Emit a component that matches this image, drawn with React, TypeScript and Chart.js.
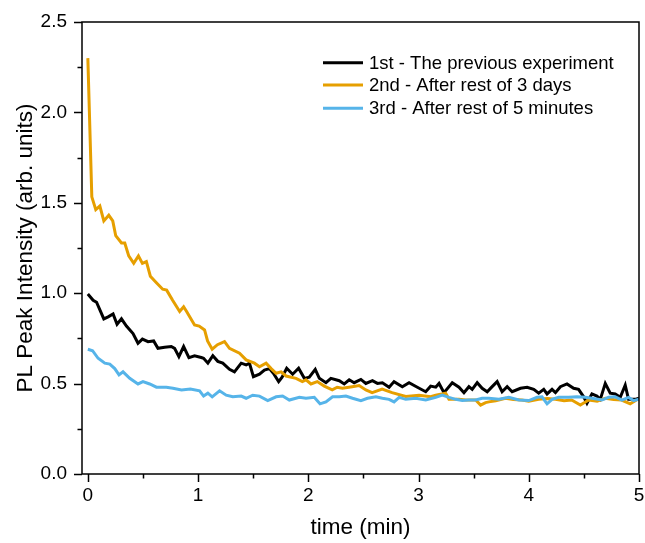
import React, { useEffect, useRef } from 'react';
import { Chart, registerables } from 'chart.js';

Chart.register(...registerables);

const SERIES_LABELS = [
  '1st - The previous experiment',
  '2nd - After rest of 3 days',
  '3rd - After rest of 5 minutes',
];
const SERIES_COLORS = ['#000000', '#E69F00', '#56B4E9'];

const T1 = [0.0, 0.048, 0.079, 0.145, 0.184, 0.229, 0.265, 0.305, 0.35, 0.41, 0.455, 0.495, 0.546, 0.597, 0.636, 0.697, 0.757, 0.787, 0.826, 0.869, 0.917, 0.968, 1.029, 1.05, 1.089, 1.134, 1.179, 1.224, 1.285, 1.33, 1.391, 1.436, 1.466, 1.502, 1.557, 1.602, 1.647, 1.683, 1.731, 1.762, 1.804, 1.858, 1.912, 1.964, 2.009, 2.063, 2.1, 2.16, 2.205, 2.281, 2.326, 2.371, 2.416, 2.477, 2.522, 2.582, 2.627, 2.672, 2.733, 2.778, 2.853, 2.914, 2.989, 3.065, 3.11, 3.156, 3.186, 3.231, 3.306, 3.367, 3.412, 3.457, 3.487, 3.532, 3.577, 3.623, 3.668, 3.713, 3.758, 3.804, 3.849, 3.925, 3.985, 4.045, 4.09, 4.136, 4.166, 4.211, 4.242, 4.287, 4.347, 4.407, 4.452, 4.498, 4.528, 4.573, 4.618, 4.649, 4.694, 4.739, 4.784, 4.83, 4.875, 4.905, 4.966, 5.0];
const V1 = [0.996, 0.961, 0.95, 0.858, 0.869, 0.885, 0.828, 0.858, 0.818, 0.777, 0.723, 0.746, 0.732, 0.736, 0.695, 0.701, 0.705, 0.695, 0.649, 0.705, 0.644, 0.654, 0.644, 0.64, 0.613, 0.654, 0.623, 0.613, 0.579, 0.565, 0.613, 0.603, 0.613, 0.538, 0.552, 0.575, 0.583, 0.557, 0.511, 0.535, 0.585, 0.552, 0.585, 0.529, 0.535, 0.579, 0.529, 0.505, 0.529, 0.516, 0.498, 0.521, 0.505, 0.523, 0.501, 0.516, 0.501, 0.505, 0.48, 0.511, 0.483, 0.505, 0.48, 0.455, 0.486, 0.48, 0.501, 0.45, 0.505, 0.48, 0.45, 0.483, 0.468, 0.505, 0.474, 0.455, 0.483, 0.511, 0.455, 0.483, 0.455, 0.474, 0.48, 0.468, 0.447, 0.468, 0.443, 0.468, 0.45, 0.483, 0.498, 0.474, 0.468, 0.427, 0.391, 0.443, 0.431, 0.413, 0.501, 0.447, 0.443, 0.424, 0.491, 0.413, 0.413, 0.419];

const T2 = [0.0, 0.036, 0.072, 0.109, 0.145, 0.19, 0.226, 0.253, 0.305, 0.335, 0.371, 0.416, 0.459, 0.495, 0.531, 0.567, 0.622, 0.679, 0.715, 0.769, 0.833, 0.869, 0.896, 0.968, 1.01, 1.059, 1.086, 1.128, 1.176, 1.24, 1.285, 1.376, 1.436, 1.511, 1.557, 1.617, 1.663, 1.708, 1.753, 1.798, 1.889, 1.946, 1.979, 2.024, 2.081, 2.145, 2.217, 2.262, 2.31, 2.398, 2.461, 2.522, 2.579, 2.67, 2.76, 2.884, 3.005, 3.11, 3.156, 3.246, 3.276, 3.367, 3.427, 3.518, 3.563, 3.608, 3.638, 3.7, 3.789, 3.86, 3.937, 4.0, 4.09, 4.17, 4.242, 4.32, 4.389, 4.468, 4.543, 4.62, 4.694, 4.77, 4.842, 4.92, 4.977];
const V2 = [2.3, 1.533, 1.462, 1.482, 1.4, 1.431, 1.4, 1.318, 1.278, 1.278, 1.206, 1.165, 1.206, 1.165, 1.175, 1.094, 1.058, 1.022, 1.017, 0.961, 0.899, 0.925, 0.899, 0.824, 0.818, 0.797, 0.736, 0.69, 0.715, 0.732, 0.695, 0.668, 0.631, 0.613, 0.593, 0.613, 0.583, 0.557, 0.565, 0.542, 0.529, 0.511, 0.521, 0.498, 0.511, 0.486, 0.465, 0.48, 0.474, 0.483, 0.489, 0.465, 0.45, 0.47, 0.45, 0.429, 0.436, 0.427, 0.436, 0.447, 0.414, 0.413, 0.409, 0.409, 0.381, 0.395, 0.399, 0.405, 0.419, 0.412, 0.409, 0.402, 0.413, 0.418, 0.413, 0.405, 0.409, 0.381, 0.409, 0.402, 0.419, 0.412, 0.409, 0.388, 0.409];

const T3 = [0.0, 0.043, 0.093, 0.154, 0.199, 0.244, 0.283, 0.319, 0.38, 0.455, 0.5, 0.561, 0.622, 0.712, 0.772, 0.85, 0.93, 1.014, 1.05, 1.089, 1.128, 1.195, 1.255, 1.315, 1.391, 1.436, 1.496, 1.557, 1.632, 1.708, 1.767, 1.828, 1.919, 1.979, 2.054, 2.106, 2.16, 2.22, 2.281, 2.341, 2.401, 2.477, 2.537, 2.613, 2.672, 2.733, 2.778, 2.824, 2.884, 2.975, 3.065, 3.156, 3.215, 3.276, 3.337, 3.397, 3.457, 3.518, 3.577, 3.638, 3.729, 3.819, 3.91, 4.0, 4.075, 4.12, 4.166, 4.211, 4.271, 4.362, 4.437, 4.513, 4.573, 4.663, 4.724, 4.784, 4.845, 4.905, 4.95, 5.0];
const V3 = [0.69, 0.682, 0.64, 0.613, 0.608, 0.583, 0.548, 0.565, 0.529, 0.498, 0.511, 0.498, 0.48, 0.48, 0.474, 0.465, 0.47, 0.46, 0.431, 0.447, 0.427, 0.46, 0.436, 0.427, 0.431, 0.419, 0.436, 0.431, 0.406, 0.427, 0.431, 0.409, 0.424, 0.419, 0.424, 0.388, 0.399, 0.427, 0.427, 0.431, 0.419, 0.406, 0.419, 0.427, 0.419, 0.413, 0.399, 0.424, 0.413, 0.419, 0.409, 0.424, 0.436, 0.424, 0.413, 0.406, 0.409, 0.409, 0.419, 0.419, 0.413, 0.424, 0.409, 0.406, 0.424, 0.427, 0.388, 0.413, 0.424, 0.424, 0.427, 0.424, 0.419, 0.409, 0.424, 0.427, 0.409, 0.424, 0.406, 0.413];

const Y_TICKS = [0, 0.5, 1, 1.5, 2, 2.5];
const Y_MINOR = [0.25, 0.75, 1.25, 1.75, 2.25];
const X_TICKS = [0, 1, 2, 3, 4, 5];
const X_MINOR = [0.5, 1.5, 2.5, 3.5, 4.5];

const FONT = "'Liberation Sans', Arial, Helvetica, sans-serif";

const framePlugin = {
  id: 'frameAndLegend',
  afterDatasetsDraw(chart: any) {
    const { ctx, chartArea: a, scales } = chart;
    ctx.save();
    ctx.strokeStyle = '#000';
    ctx.lineWidth = 1.5;
    ctx.strokeRect(a.left, a.top, a.right - a.left, a.bottom - a.top);
    ctx.beginPath();
    Y_TICKS.forEach((v) => {
      const y = Math.round(scales.y.getPixelForValue(v)) + 0.5;
      ctx.moveTo(a.left - 8, y);
      ctx.lineTo(a.left, y);
    });
    Y_MINOR.forEach((v) => {
      const y = Math.round(scales.y.getPixelForValue(v)) + 0.5;
      ctx.moveTo(a.left - 4.5, y);
      ctx.lineTo(a.left, y);
    });
    X_TICKS.forEach((v) => {
      const x = Math.round(scales.x.getPixelForValue(v)) + 0.5;
      ctx.moveTo(x, a.bottom);
      ctx.lineTo(x, a.bottom + 8);
    });
    X_MINOR.forEach((v) => {
      const x = Math.round(scales.x.getPixelForValue(v)) + 0.5;
      ctx.moveTo(x, a.bottom);
      ctx.lineTo(x, a.bottom + 4.5);
    });
    ctx.stroke();

    // legend
    const rowY = [a.top + 40.7, a.top + 63, a.top + 86.3];
    const x0 = a.left + 241;
    ctx.font = `18.5px ${FONT}`;
    ctx.textBaseline = 'middle';
    ctx.textAlign = 'left';
    SERIES_LABELS.forEach((lab, i) => {
      ctx.strokeStyle = SERIES_COLORS[i];
      ctx.lineWidth = 3;
      ctx.beginPath();
      ctx.moveTo(x0, rowY[i]);
      ctx.lineTo(x0 + 40, rowY[i]);
      ctx.stroke();
      ctx.fillStyle = '#000';
      ctx.fillText(lab, x0 + 46, rowY[i] + 1);
    });
    ctx.restore();
  },
};

export default function App() {
  const ref = useRef<HTMLCanvasElement>(null);
  useEffect(() => {
    if (!ref.current) return;
    const mk = (t: number[], v: number[]) => t.map((x, i) => ({ x, y: v[i] }));
    const series = [mk(T1, V1), mk(T2, V2), mk(T3, V3)];
    const chart = new Chart(ref.current, {
      type: 'line',
      data: {
        datasets: series.map((d, i) => ({
          label: SERIES_LABELS[i],
          data: d,
          borderColor: SERIES_COLORS[i],
          backgroundColor: SERIES_COLORS[i],
          borderWidth: 3,
          pointRadius: 0,
          tension: 0,
          fill: false,
          order: 3 - i,
        })),
      },
      options: {
        responsive: false,
        animation: false,
        devicePixelRatio: 1,
        layout: { padding: { top: 22, right: 6, left: 0, bottom: 0 } },
        plugins: { legend: { display: false }, tooltip: { enabled: false } },
        scales: {
          x: {
            type: 'linear',
            min: -0.053,
            max: 5,
            grid: { display: false, drawTicks: false },
            border: { display: false },
            afterBuildTicks: (s: any) => {
              s.ticks = X_TICKS.map((value) => ({ value }));
            },
            afterFit: (s: any) => {
              s.height = 69;
              s.paddingLeft = 0;
              s.paddingRight = 0;
            },
            ticks: {
              color: '#000',
              font: { family: FONT, size: 19 },
              padding: 10,
              maxRotation: 0,
              callback: (v: any) => String(v),
            },
            title: {
              display: true,
              text: 'time (min)',
              color: '#000',
              font: { family: FONT, size: 22.5 },
              padding: { top: 0, bottom: 2 },
            },
          },
          y: {
            type: 'linear',
            min: 0,
            max: 2.5,
            grid: { display: false, drawTicks: false },
            border: { display: false },
            afterBuildTicks: (s: any) => {
              s.ticks = Y_TICKS.map((value) => ({ value }));
            },
            afterFit: (s: any) => {
              s.width = 82;
              s.paddingTop = 0;
              s.paddingBottom = 0;
            },
            ticks: {
              color: '#000',
              font: { family: FONT, size: 19 },
              padding: 15,
              callback: (v: any) => Number(v).toFixed(1),
            },
            title: {
              display: true,
              text: 'PL Peak Intensity (arb. units)',
              color: '#000',
              font: { family: FONT, size: 22.5 },
              padding: { top: 12, bottom: 0 },
            },
          },
        },
      },
      plugins: [framePlugin],
    });
    return () => chart.destroy();
  }, []);
  return (
    <div style={{ position: 'fixed', left: 0, top: 0, width: 645, height: 543, background: '#fff' }}>
      <canvas ref={ref} width={645} height={543} style={{ width: 645, height: 543, display: 'block' }} />
    </div>
  );
}
